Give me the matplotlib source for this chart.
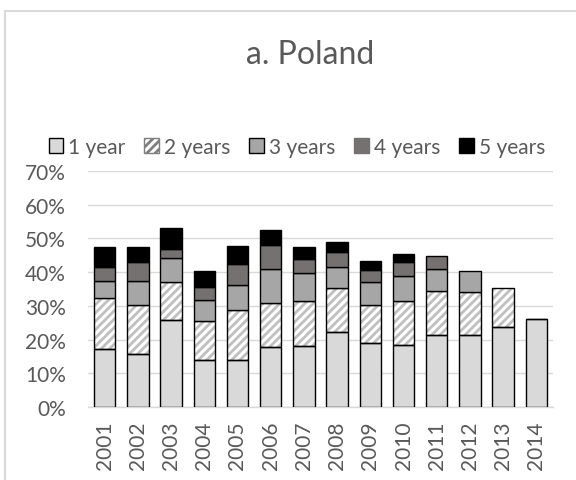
import numpy as np
import matplotlib
matplotlib.use('Agg')
import matplotlib.pyplot as plt
from matplotlib.patches import Rectangle, Patch

plt.rcParams['font.family'] = ['Lato', 'DejaVu Sans']
plt.rcParams['hatch.linewidth'] = 2.0

years = ['2001', '2002', '2003', '2004', '2005', '2006', '2007',
         '2008', '2009', '2010', '2011', '2012', '2013', '2014']

# shares (%) of each duration segment
y1 = [17.2, 15.6, 25.8, 13.9, 13.9, 17.7, 18.2, 22.2, 18.9, 18.3, 21.5, 21.4, 23.7, 26.2]
y2 = [15.1, 14.6, 11.2, 11.6, 14.8, 13.2, 13.3, 13.2, 11.5, 13.2, 12.9, 12.6, 11.6, 0]
y3 = [5.1, 7.1, 7.1, 6.2, 7.4, 10.0, 8.2, 6.1, 6.7, 7.4, 6.5, 6.4, 0, 0]
y4 = [4.2, 5.8, 2.8, 4.0, 6.2, 7.2, 4.2, 4.4, 3.6, 4.0, 4.0, 0, 0, 0]
y5 = [5.8, 4.3, 6.1, 4.7, 5.6, 4.4, 3.5, 3.0, 2.7, 2.6, 0, 0, 0, 0]

labels = ['1 year', '2 years', '3 years', '4 years', '5 years']
colors = ['#d9d9d9', 'white', '#a6a6a6', '#767171', '#000000']
txt = '#595959'

fig = plt.figure(figsize=(5.76, 4.81), dpi=100)
ax = fig.add_axes([88/576, 1-408/481, 465/576, 236/481])

x = np.arange(len(years))
w = 0.645
series = [y1, y2, y3, y4, y5]
bottom = np.zeros(len(years))
for i, s in enumerate(series):
    s = np.array(s) / 100
    if i == 1:
        ax.bar(x, s, w, bottom=bottom, color='white', edgecolor='#bfbfbf',
               hatch='////', linewidth=0, zorder=2)
        ax.bar(x, s, w, bottom=bottom, fill=False, edgecolor='black',
               linewidth=1, zorder=3)
    else:
        mask = s > 0
        ax.bar(x[mask], s[mask], w, bottom=bottom[mask], color=colors[i],
               edgecolor='black', linewidth=1, zorder=3)
    bottom += s

ax.set_ylim(0, 0.7)
ax.set_xlim(-0.5, len(years) - 0.5)
ax.set_yticks(np.arange(0, 0.71, 0.1))
ax.set_yticklabels([f'{int(round(v*100))}%' for v in np.arange(0, 0.71, 0.1)])
ax.set_xticks(x)
ax.set_xticklabels(years, rotation=90)
ax.tick_params(axis='both', length=0, labelsize=15, colors=txt)
ax.tick_params(axis='x', pad=10)
ax.tick_params(axis='y', pad=16)
ax.grid(axis='y', color='#d9d9d9', linewidth=1, zorder=0)
ax.set_axisbelow(True)
for sp in ['top', 'right', 'left']:
    ax.spines[sp].set_visible(False)
ax.spines['bottom'].set_color('#d9d9d9')
ax.spines['bottom'].set_linewidth(1)

fig.text(310/576, 1-55/481, 'a. Poland', ha='center', va='center',
         fontsize=23, color=txt)

handles = []
for i, lab in enumerate(labels):
    if i == 1:
        handles.append(Patch(facecolor='white', edgecolor='#7f7f7f', hatch='////', linewidth=1))
    else:
        handles.append(Patch(facecolor=colors[i], edgecolor='black' if i < 3 else colors[i], linewidth=1))
fig.legend(handles, labels, loc='center', bbox_to_anchor=(297/576, 1-148/481),
           ncol=5, frameon=False, fontsize=15, labelcolor=txt,
           handlelength=0.7, handleheight=0.7, handletextpad=0.25, columnspacing=0.9)

fig.patches.append(Rectangle((5/576, -0.1), 1.2, 1.1 - 12/481, transform=fig.transFigure,
                             fill=False, edgecolor='#d9d9d9', linewidth=1.5))

fig.savefig('out.png', dpi=100)
